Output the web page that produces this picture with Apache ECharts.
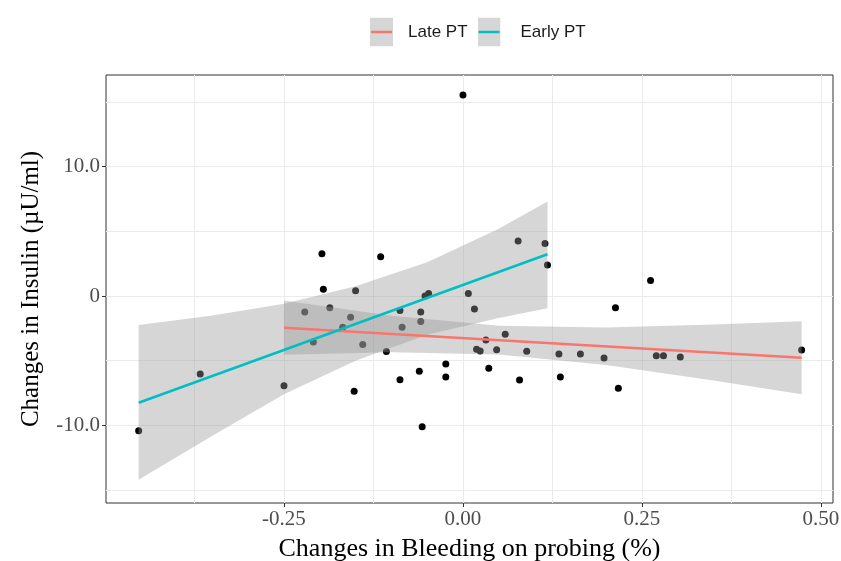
<!DOCTYPE html>
<html><head><meta charset="utf-8">
<script src="https://cdn.jsdelivr.net/npm/echarts@6/dist/echarts.min.js"></script>
<style>html,body{margin:0;padding:0;background:#fff}#c{width:841px;height:561px}</style>
</head><body><div id="c"></div>
<script>
// Scatter points: change in bleeding on probing (x) vs change in insulin (y)
const bopChange = [0.000, -0.197, -0.115, -0.195, -0.150, -0.053, -0.048, 0.0075, -0.221, -0.186,
  -0.157, -0.168, -0.088, -0.059, -0.059, -0.085, -0.209, -0.140, -0.107, -0.367,
  -0.250, -0.024, -0.024, -0.061, -0.088, -0.152, -0.057, -0.453, 0.077, 0.1145,
  0.118, 0.262, 0.213, 0.016, 0.059, 0.032, 0.019, 0.024, 0.047, 0.089,
  0.134, 0.164, 0.197, 0.270, 0.280, 0.3035, 0.473, 0.036, 0.079, 0.136, 0.217];
const insulinChange = [15.53, 3.27, 3.04, 0.52, 0.41, 0.0, 0.2, 0.2, -1.24, -0.90,
  -1.65, -2.42, -1.13, -1.24, -1.98, -2.42, -3.55, -3.74, -4.30, -6.03,
  -6.93, -5.26, -6.26, -5.82, -6.47, -7.37, -10.10, -10.41, 4.25, 4.05,
  2.40, 1.19, -0.90, -1.0, -2.96, -3.40, -4.12, -4.25, -4.15, -4.28,
  -4.48, -4.48, -4.79, -4.61, -4.61, -4.71, -4.17, -5.59, -6.49, -6.26, -7.14];

// Fitted lines (end points)
const lateLineX = [-0.25, 0.473];
const lateLineY = [-2.45, -4.77];
const earlyLineX = [-0.453, 0.118];
const earlyLineY = [-8.25, 3.22];

// Confidence bands (edges)
const earlyBandX = [-0.453, -0.35, -0.25, -0.15, -0.05, 0.05, 0.118];
const earlyBandLower = [-14.2, -10.8, -7.6, -5.0, -3.0, -1.7, -0.95];
const earlyBandUpper = [-2.24, -1.5, -0.6, 0.75, 2.6, 5.2, 7.3];
const lateBandX = [-0.25, -0.1, 0.05, 0.2, 0.35, 0.473];
const lateBandLower = [-4.55, -4.34, -4.52, -5.34, -6.53, -7.59];
const lateBandUpper = [-0.35, -1.52, -2.30, -2.44, -2.21, -1.95];

// Axis ticks
const xTickValues = [-0.25, 0, 0.25, 0.5];
const xTickLabels = ['-0.25', '0.00', '0.25', '0.50'];
const xGridValues = [-0.375, -0.25, -0.125, 0, 0.125, 0.25, 0.375, 0.5];
const yTickValues = [-10, 0, 10];
const yTickLabels = ['-10.0', '0', '10.0'];
const yGridValues = [-15, -10, -5, 0, 5, 10, 15];

const seriesNames = ['Late PT', 'Early PT'];
const seriesColors = ['#F8766D', '#00BFC4'];

const X_MIN = -0.4986, X_MAX = 0.5168, Y_MIN = -16.0, Y_MAX = 17.08;
const SERIF = "'Liberation Serif', 'DejaVu Serif', serif";
const SANS = "'Liberation Sans', Arial, sans-serif";

function lookup(vals, labels, v) {
  for (let i = 0; i < vals.length; i++) if (Math.abs(vals[i] - v) < 1e-9) return labels[i];
  return '';
}
function legendIcon(color) {
  const svg = "<svg xmlns='http://www.w3.org/2000/svg' width='23' height='29'>" +
    "<rect width='23' height='29' fill='#d6d6d6'/>" +
    "<line x1='1' y1='14.5' x2='22' y2='14.5' stroke='" + color + "' stroke-width='2.6'/></svg>";
  return 'image://data:image/svg+xml;charset=utf-8,' + encodeURIComponent(svg);
}
function bandRender(xs, lo, hi) {
  return function (params, api) {
    if (params.dataIndex !== 0) return null;
    const pts = [];
    for (let i = 0; i < xs.length; i++) pts.push(api.coord([xs[i], hi[i]]));
    for (let i = xs.length - 1; i >= 0; i--) pts.push(api.coord([xs[i], lo[i]]));
    return { type: 'polygon', shape: { points: pts }, style: { fill: 'rgba(153,153,153,0.4)' } };
  };
}

const chart = echarts.init(document.getElementById('c'), null, { renderer: 'canvas' });
const legendText = { fontFamily: SANS, fontSize: 17, color: '#1a1a1a' };
const option = {
  animation: false,
  backgroundColor: '#ffffff',
  legend: {
    left: 365, top: 12,
    itemWidth: 23, itemHeight: 30, itemGap: 10,
    data: [
      { name: seriesNames[0], icon: legendIcon(seriesColors[0]),
        textStyle: Object.assign({ padding: [0, 0, 0, 10] }, legendText) },
      { name: seriesNames[1], icon: legendIcon(seriesColors[1]),
        textStyle: Object.assign({ padding: [0, 0, 0, 15] }, legendText) }
    ],
    textStyle: Object.assign({ padding: [0, 0, 0, 10] }, legendText)
  },
  grid: {
    left: 106, right: 8, top: 75, bottom: 58,
    show: true, borderColor: '#333333', borderWidth: 1, backgroundColor: 'transparent',
    containLabel: false, outerBoundsMode: 'none'
  },
  xAxis: [
    {
      type: 'value', min: X_MIN, max: X_MAX,
      name: 'Changes in Bleeding on probing (%)', nameLocation: 'middle', nameGap: 33,
      nameTextStyle: { fontFamily: SERIF, fontSize: 26, color: '#000' },
      axisLine: { show: false, onZero: false },
      axisTick: { show: false, customValues: xGridValues },
      splitLine: { show: true, lineStyle: { color: '#ebebeb', width: 1 } },
      axisLabel: {
        customValues: xTickValues, margin: 6,
        fontFamily: SERIF, fontSize: 21, color: '#4d4d4d',
        formatter: v => lookup(xTickValues, xTickLabels, v)
      }
    },
    {
      type: 'value', min: X_MIN, max: X_MAX, position: 'bottom',
      axisLine: { show: false, onZero: false },
      axisTick: { show: true, inside: false, customValues: xTickValues, length: 4, lineStyle: { color: '#333333' } },
      axisLabel: { show: false }, splitLine: { show: false }
    }
  ],
  yAxis: [
    {
      type: 'value', min: Y_MIN, max: Y_MAX,
      name: 'Changes in Insulin (µU/ml)', nameLocation: 'middle', nameGap: 62,
      nameTextStyle: { fontFamily: SERIF, fontSize: 25, color: '#000' },
      axisLine: { show: false, onZero: false },
      axisTick: { show: false, customValues: yGridValues },
      splitLine: { show: true, lineStyle: { color: '#ebebeb', width: 1 } },
      axisLabel: {
        customValues: yTickValues, margin: 6,
        fontFamily: SERIF, fontSize: 21, color: '#4d4d4d',
        formatter: v => lookup(yTickValues, yTickLabels, v)
      }
    },
    {
      type: 'value', min: Y_MIN, max: Y_MAX, position: 'left',
      axisLine: { show: false, onZero: false },
      axisTick: { show: true, inside: false, customValues: yTickValues, length: 4, lineStyle: { color: '#333333' } },
      axisLabel: { show: false }, splitLine: { show: false }
    }
  ],
  series: [
    {
      type: 'scatter', name: 'points', z: 2, silent: true,
      symbolSize: 7, itemStyle: { color: '#000000', opacity: 1 },
      data: bopChange.map((x, i) => [x, insulinChange[i]])
    },
    {
      type: 'custom', name: 'Late band', z: 3, silent: true,
      renderItem: bandRender(lateBandX, lateBandLower, lateBandUpper),
      encode: { x: 0, y: [1, 2] },
      data: lateBandX.map((x, i) => [x, lateBandLower[i], lateBandUpper[i]])
    },
    {
      type: 'custom', name: 'Early band', z: 3, silent: true,
      renderItem: bandRender(earlyBandX, earlyBandLower, earlyBandUpper),
      encode: { x: 0, y: [1, 2] },
      data: earlyBandX.map((x, i) => [x, earlyBandLower[i], earlyBandUpper[i]])
    },
    {
      type: 'line', name: seriesNames[0], z: 4, silent: true,
      showSymbol: false, symbol: 'none', color: seriesColors[0],
      lineStyle: { color: seriesColors[0], width: 2.6 },
      data: lateLineX.map((x, i) => [x, lateLineY[i]])
    },
    {
      type: 'line', name: seriesNames[1], z: 4, silent: true,
      showSymbol: false, symbol: 'none', color: seriesColors[1],
      lineStyle: { color: seriesColors[1], width: 2.6 },
      data: earlyLineX.map((x, i) => [x, earlyLineY[i]])
    }
  ]
};
chart.setOption(option);
</script>
</body></html>
